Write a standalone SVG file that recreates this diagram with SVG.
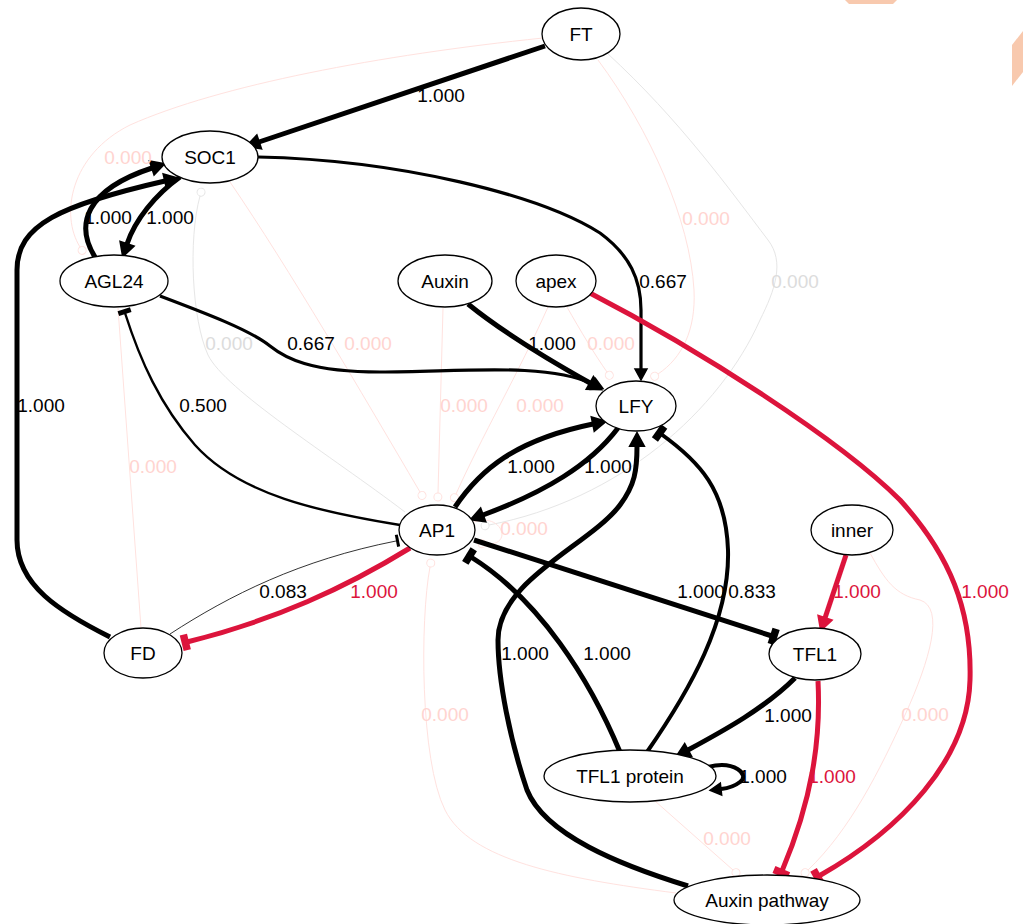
<svg xmlns="http://www.w3.org/2000/svg" width="1023" height="924" viewBox="0 0 1023 924">
<style>
.n ellipse{fill:#fff;stroke:#000;stroke-width:1.3}
text{font-family:"Liberation Sans",Arial,sans-serif;font-size:19px;text-anchor:middle}
.n text{fill:#000}
.e{fill:none;stroke:#000}
.w5{stroke-width:5}
.w4{stroke-width:4}
.w3{stroke-width:3.2}
.w2{stroke-width:2.4}
.w1{stroke-width:0.8}
.r{stroke:#dc143c}
.fp{fill:none;stroke:#ffe2df;stroke-width:1}
.fg{fill:none;stroke:#e6e6e6;stroke-width:1}
.lb{fill:#000}
.lr{fill:#dc143c}
.lp{fill:#ffd4d0}
.lg{fill:#dcdcdc}
</style>
<defs>
<marker id="aL" markerUnits="userSpaceOnUse" viewBox="0 -9 16 18" refX="0" refY="0" markerWidth="16" markerHeight="18" orient="auto" overflow="visible"><path d="M0,-7 L13,0 L0,7 z" fill="#000" stroke="#000" stroke-width="2"/></marker>
<marker id="aM" markerUnits="userSpaceOnUse" viewBox="0 -7 14 14" refX="0" refY="0" markerWidth="14" markerHeight="14" orient="auto" overflow="visible"><path d="M0,-6 L11,0 L0,6 z" fill="#000" stroke="#000" stroke-width="1.5"/></marker>
<marker id="aR" markerUnits="userSpaceOnUse" viewBox="0 -9 16 18" refX="0" refY="0" markerWidth="16" markerHeight="18" orient="auto" overflow="visible"><path d="M0,-7 L13,0 L0,7 z" fill="#dc143c" stroke="#dc143c" stroke-width="2"/></marker>
<marker id="tL" markerUnits="userSpaceOnUse" viewBox="-2 -8 8 16" refX="0" refY="0" markerWidth="8" markerHeight="16" orient="auto" overflow="visible"><rect x="-2" y="-8" width="7.5" height="16" fill="#000"/></marker>
<marker id="tM" markerUnits="userSpaceOnUse" viewBox="-1 -7 6 14" refX="0" refY="0" markerWidth="6" markerHeight="14" orient="auto" overflow="visible"><rect x="-1" y="-6.5" width="5" height="13" fill="#000"/></marker>
<marker id="tS" markerUnits="userSpaceOnUse" viewBox="0 -6 3 12" refX="0" refY="0" markerWidth="3" markerHeight="12" orient="auto" overflow="visible"><rect x="0" y="-6" width="3" height="12" fill="#000"/></marker>
<marker id="tR" markerUnits="userSpaceOnUse" viewBox="-2 -8 8 16" refX="0" refY="0" markerWidth="8" markerHeight="16" orient="auto" overflow="visible"><rect x="-2" y="-8" width="7.5" height="16" fill="#dc143c"/></marker>
<marker id="oP" markerUnits="userSpaceOnUse" viewBox="0 -5 10 10" refX="0" refY="0" markerWidth="10" markerHeight="10" orient="auto" overflow="visible"><circle cx="4" cy="0" r="4" fill="none" stroke="#ffe2df" stroke-width="1"/></marker>
<marker id="oG" markerUnits="userSpaceOnUse" viewBox="0 -5 10 10" refX="0" refY="0" markerWidth="10" markerHeight="10" orient="auto" overflow="visible"><circle cx="4" cy="0" r="4" fill="none" stroke="#e6e6e6" stroke-width="1"/></marker>
</defs>
<rect width="1023" height="924" fill="#fff"/>
<g id="decor" fill="#f8c9ae">
<polygon points="845,0 897,0 893,4 849,4"/>
<polygon points="1012,45 1023,31 1023,72 1012,86"/>
</g>
<g id="connectors">
<path class="fp" d="M543,38 C380,55 220,85 130,125 C70,155 60,215 80,247" marker-end="url(#oP)"/>
<path class="fp" d="M598,60 C650,130 690,220 694,290 C696,330 682,358 658,374" marker-end="url(#oP)"/>
<path class="fg" d="M607,53 C680,120 730,190 768,240 C785,262 775,290 760,320 C720,410 620,500 489,525" marker-end="url(#oG)"/>
<path class="fg" d="M405,512 C330,455 225,390 208,355 C192,320 188,240 200,196" marker-end="url(#oG)"/>
<path class="fp" d="M230,182 C290,270 360,390 420,492" marker-end="url(#oP)"/>
<path class="fp" d="M118,308 L141,628"/>
<path class="fp" d="M443,308 L438,493" marker-end="url(#oP)"/>
<path class="fp" d="M548,307 C520,370 480,440 456,494" marker-end="url(#oP)"/>
<path class="fp" d="M567,307 C580,330 595,355 607,372" marker-end="url(#oP)"/>
<path class="fp" d="M474,522 C502,512 514,546 486,544" marker-end="url(#oP)"/>
<path class="fp" d="M676,893 C560,878 470,860 445,810 C420,760 420,620 430,567" marker-end="url(#oP)"/>
<path class="fp" d="M655,801 L733,870" marker-end="url(#oP)"/>
<path class="fp" d="M870,553 C885,580 895,595 920,600 C945,608 930,660 905,715 C880,770 850,830 808,870" marker-end="url(#oP)"/>
<path class="e w5" d="M545,46 L259,142" marker-end="url(#aL)"/>
<path class="e w3" d="M258,157 C400,160 540,195 600,233 C630,255 641,280 641,310 L641,369" marker-end="url(#aM)"/>
<path class="e w5" d="M95,257 C75,225 85,190 152,168" marker-end="url(#aL)"/>
<path class="e w5" d="M180,177 C155,195 135,220 127,244" marker-end="url(#aL)"/>
<path class="e w5" d="M110,637 C60,612 17,585 17,540 L17,270 C17,225 60,205 165,181" marker-end="url(#aL)"/>
<path class="e w3" d="M160,296 C205,313 250,330 270,346 C285,358 310,372 380,372 C460,372 545,362 593,384" marker-end="url(#aM)"/>
<path class="e w5" d="M468,304 C500,330 540,355 590,383" marker-end="url(#aL)"/>
<path class="e w5" d="M455,507 C480,470 515,440 593,424" marker-end="url(#aL)"/>
<path class="e w5" d="M618,428 C590,465 545,492 483,515" marker-end="url(#aL)"/>
<path class="e w2" d="M400,525 C320,512 240,495 195,445 C160,405 140,360 125,313" marker-end="url(#tM)"/>
<path class="e w1" d="M170,634 C230,595 300,560 396,541" marker-end="url(#tS)"/>
<path class="e w5 r" d="M410,548 C345,588 275,620 187,642" marker-end="url(#tR)"/>
<path class="e w5" d="M474,540 L772,636" marker-end="url(#tL)"/>
<path class="e w4" d="M647,752 C690,690 730,620 728,550 C726,490 700,462 661,434" marker-end="url(#tL)"/>
<path class="e w5" d="M620,752 C590,680 540,600 471,557" marker-end="url(#tL)"/>
<path class="e w5" d="M688,886 C620,865 545,835 527,790 C510,740 498,680 498,640 C498,580 590,545 620,505 C635,485 637,470 637,446" marker-end="url(#aL)"/>
<path class="e w5" d="M795,678 C765,708 725,730 688,750" marker-end="url(#aL)"/>
<path class="e w4" d="M708,767 C735,760 750,775 740,782 C735,786 730,788 721,789" marker-end="url(#aM)"/>
<path class="e w5 r" d="M846,555 L825,618" marker-end="url(#aR)"/>
<path class="e w5 r" d="M588,292 C700,350 840,440 900,500 C950,555 972,610 970,680 C968,760 900,830 819,876" marker-end="url(#tR)"/>
<path class="e w5 r" d="M818,681 C821,740 812,800 782,871" marker-end="url(#tR)"/>
<text class="lb" x="441" y="102">1.000</text>
<text class="lp" x="128" y="164">0.000</text>
<text class="lb" x="108" y="224">1.000</text>
<text class="lb" x="170" y="224">1.000</text>
<text class="lp" x="706" y="225">0.000</text>
<text class="lb" x="663" y="288">0.667</text>
<text class="lg" x="795" y="288">0.000</text>
<text class="lg" x="229" y="350">0.000</text>
<text class="lb" x="311" y="350">0.667</text>
<text class="lp" x="368" y="350">0.000</text>
<text class="lb" x="552" y="350">1.000</text>
<text class="lp" x="611" y="350">0.000</text>
<text class="lb" x="41" y="412">1.000</text>
<text class="lb" x="203" y="412">0.500</text>
<text class="lp" x="464" y="412">0.000</text>
<text class="lp" x="540" y="412">0.000</text>
<text class="lp" x="153" y="473">0.000</text>
<text class="lb" x="531" y="473">1.000</text>
<text class="lb" x="608" y="473">1.000</text>
<text class="lp" x="524" y="535">0.000</text>
<text class="lb" x="283" y="598">0.083</text>
<text class="lr" x="374" y="598">1.000</text>
<text class="lb" x="701" y="598">1.000</text>
<text class="lb" x="752" y="598">0.833</text>
<text class="lr" x="857" y="598">1.000</text>
<text class="lr" x="985" y="598">1.000</text>
<text class="lb" x="525" y="660">1.000</text>
<text class="lb" x="607" y="660">1.000</text>
<text class="lp" x="445" y="721">0.000</text>
<text class="lb" x="788" y="722">1.000</text>
<text class="lp" x="925" y="721">0.000</text>
<text class="lb" x="763" y="783">1.000</text>
<text class="lr" x="832" y="783">1.000</text>
<text class="lp" x="727" y="845">0.000</text>
</g>
<g id="FT" class="n"><ellipse cx="581" cy="34" rx="39" ry="26"/><text x="581" y="41">FT</text></g>
<g id="SOC1" class="n"><ellipse cx="210" cy="157" rx="48" ry="26"/><text x="210" y="164">SOC1</text></g>
<g id="AGL24" class="n"><ellipse cx="114" cy="281" rx="54" ry="26"/><text x="114" y="288">AGL24</text></g>
<g id="Auxin" class="n"><ellipse cx="445" cy="281" rx="47" ry="26"/><text x="445" y="288">Auxin</text></g>
<g id="apex" class="n"><ellipse cx="556" cy="281" rx="40" ry="26"/><text x="556" y="288">apex</text></g>
<g id="LFY" class="n"><ellipse cx="636" cy="406" rx="40" ry="25"/><text x="636" y="413">LFY</text></g>
<g id="AP1" class="n"><ellipse cx="437" cy="530" rx="38" ry="25"/><text x="437" y="537">AP1</text></g>
<g id="inner" class="n"><ellipse cx="852" cy="530" rx="41" ry="25"/><text x="852" y="537">inner</text></g>
<g id="FD" class="n"><ellipse cx="143" cy="653" rx="39" ry="25"/><text x="143" y="660">FD</text></g>
<g id="TFL1" class="n"><ellipse cx="815" cy="654" rx="46" ry="26"/><text x="815" y="661">TFL1</text></g>
<g id="TFL1_protein" class="n"><ellipse cx="630" cy="776" rx="86" ry="26"/><text x="630" y="783">TFL1 protein</text></g>
<g id="Auxin_pathway" class="n"><ellipse cx="767" cy="900" rx="93" ry="25"/><text x="767" y="907">Auxin pathway</text></g>
</svg>
